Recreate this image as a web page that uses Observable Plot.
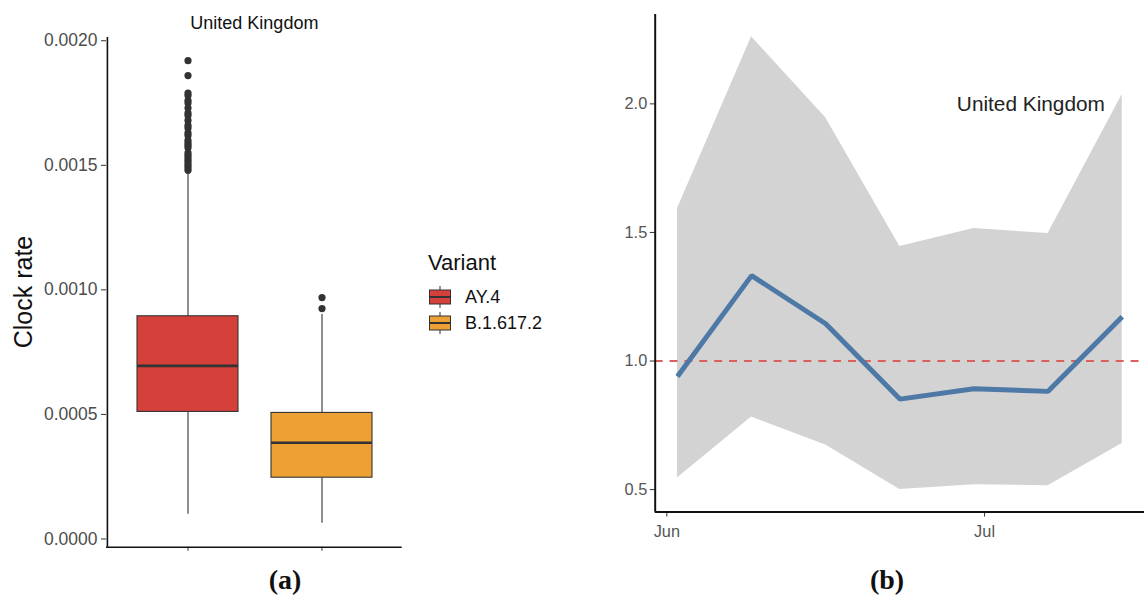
<!DOCTYPE html>
<html>
<head>
<meta charset="utf-8">
<script src="https://cdn.jsdelivr.net/npm/d3@7"></script>
<script src="https://cdn.jsdelivr.net/npm/@observablehq/plot@0.6"></script>
<style>
  html, body { margin: 0; padding: 0; background: #fff; }
  #root { position: relative; width: 1144px; height: 599px; overflow: hidden; background: #fff; font-family: "Liberation Sans", Arial, sans-serif; }
  .panel { position: absolute; top: 0; }
  .cap { position: absolute; font-family: "Liberation Serif", "DejaVu Serif", serif; font-weight: bold; font-size: 28px; color: #111; transform: translateX(-50%); }
  #legend { position: absolute; left: 428px; top: 250px; color: #111; }
  #legend .title { font-size: 22px; line-height: 26px; margin-bottom: 8px; }
  #legend .item { display: flex; align-items: center; height: 26px; font-size: 18px; }
  #ylab { position: absolute; left: 23px; top: 292px; transform: translate(-50%, -50%) rotate(-90deg); font-size: 25px; color: #111; white-space: nowrap; }
</style>
</head>
<body>
<div id="root">
  <div id="pa" class="panel" style="left:0px"></div>
  <div id="pb" class="panel" style="left:560px"></div>
  <div id="ylab">Clock rate</div>
  <div id="legend"></div>
  <div class="cap" style="left:285px; top:564px">(a)</div>
  <div class="cap" style="left:887px; top:564px">(b)</div>
</div>
<script>
// ---------- Panel (a): clock rate box plots ----------
const variants = ["AY.4", "B.1.617.2"];
const variantColors = ["#d6403a", "#eda135"];
const q1 = [0.000510, 0.000246];
const medians = [0.000695, 0.000386];
const q3 = [0.000894, 0.000506];
const whiskerLow = [0.000099, 0.000063];
const whiskerHigh = [0.001465, 0.000901];
const outliersAY4 = [0.00148, 0.00149, 0.00150, 0.00151, 0.00152, 0.00153, 0.00154, 0.00155, 0.00157, 0.00158, 0.00159, 0.00160, 0.00162, 0.00163, 0.00165, 0.00166, 0.00168, 0.00170, 0.00171, 0.00173, 0.00175, 0.00176, 0.00178, 0.00179, 0.00186, 0.00192];
const outliersB16172 = [0.000925, 0.000969];
const clockTicks = [0, 0.0005, 0.0010, 0.0015, 0.0020];

// ---------- Panel (b): reproduction number over time ----------
const weekDates = ["2021-06-02", "2021-06-09", "2021-06-16", "2021-06-23", "2021-06-30", "2021-07-07", "2021-07-14"];
const rMean = [0.94, 1.332, 1.145, 0.852, 0.892, 0.882, 1.172];
const rUpper = [1.592, 2.261, 1.946, 1.445, 1.515, 1.496, 2.036];
const rLower = [0.545, 0.782, 0.673, 0.500, 0.519, 0.515, 0.679];
const rTicks = [0.5, 1.0, 1.5, 2.0];
const monthTicks = ["2021-06-01", "2021-07-01"];
const panelTitle = "United Kingdom";

// Build tables
const boxes = variants.map((v, i) => ({variant: v, q1: q1[i], med: medians[i], q3: q3[i], lo: whiskerLow[i], hi: whiskerHigh[i]}));
const outliers = [
  ...outliersAY4.map(v => ({variant: variants[0], value: v})),
  ...outliersB16172.map(v => ({variant: variants[1], value: v}))
];
const fillScale = {type: "ordinal", domain: variants, range: variantColors};

const yA = [-0.000033, 0.002013];
const plotA = Plot.plot({
  width: 420, height: 560,
  marginLeft: 106, marginRight: 18.3, marginTop: 37, marginBottom: 13.3,
  style: {fontFamily: "Liberation Sans, Arial, sans-serif", background: "transparent", overflow: "visible"},
  x: {type: "band", domain: variants, paddingInner: 0.25, paddingOuter: 0.225, axis: null},
  y: {domain: yA, axis: null},
  color: fillScale,
  marks: [
    Plot.ruleX(boxes, {x: "variant", y1: "lo", y2: "q1", stroke: "#333", strokeWidth: 1.1}),
    Plot.ruleX(boxes, {x: "variant", y1: "q3", y2: "hi", stroke: "#333", strokeWidth: 1.1}),
    Plot.barY(boxes, {x: "variant", y1: "q1", y2: "q3", fill: "variant", stroke: "#333", strokeWidth: 1.1}),
    Plot.tickY(boxes, {x: "variant", y: "med", stroke: "#333", strokeWidth: 2.6}),
    Plot.dot(outliers, {x: "variant", y: "value", r: 3.6, fill: "#333", stroke: null}),
    Plot.axisY({ticks: clockTicks, tickFormat: d3.format(".4f"), tickSize: 5, tickPadding: 4, fontSize: 17.5, stroke: "#333", fill: "#4d4d4d", label: null}),
    Plot.axisX({ticks: variants, tickFormat: () => "", tickSize: 4, stroke: "#333", label: null}),
    Plot.ruleY([yA[0]], {stroke: "#111", strokeWidth: 1.6}),
    Plot.ruleX([0], {x: () => variants[0], dx: -80.6, y1: yA[0], y2: yA[1], stroke: "#111", strokeWidth: 1.6}),
    Plot.text([panelTitle], {frameAnchor: "top", lineAnchor: "middle", dy: -14, fontSize: 18, fill: "#111"})
  ]
});
document.getElementById("pa").appendChild(plotA);

// Legend (HTML keys built from the same variant/colour arrays)
const legend = document.getElementById("legend");
legend.innerHTML = `<div class="title">Variant</div>` + variants.map((v, i) => `
  <div class="item">
    <svg width="24" height="24" style="margin-right:13px">
      <line x1="12" x2="12" y1="1" y2="23" stroke="#333" stroke-width="1"/>
      <rect x="1.5" y="5" width="21" height="14" fill="${variantColors[i]}" stroke="#333" stroke-width="1"/>
      <line x1="1.5" x2="22.5" y1="12" y2="12" stroke="#333" stroke-width="2"/>
    </svg>${v}</div>`).join("");

// Panel (b)
const parse = d3.utcParse("%Y-%m-%d");
const series = weekDates.map((d, i) => ({date: parse(d), r: rMean[i], lo: rLower[i], hi: rUpper[i]}));
const span = series[series.length - 1].date - series[0].date;
const xB = [new Date(+series[0].date - 0.05 * span), new Date(+series[series.length - 1].date + 0.05 * span)];
const yB = [0.4125, 2.348];
const plotB = Plot.plot({
  width: 589, height: 560,
  marginLeft: 95.5, marginRight: 0, marginTop: 14, marginBottom: 44,
  style: {fontFamily: "Liberation Sans, Arial, sans-serif", background: "transparent", overflow: "visible"},
  x: {type: "utc", domain: xB, axis: null},
  y: {domain: yB, axis: null},
  marks: [
    Plot.areaY(series, {x: "date", y1: "lo", y2: "hi", fill: "#d3d3d3", curve: "linear"}),
    Plot.ruleY([1], {stroke: "#d9605c", strokeWidth: 2, strokeDasharray: "8,7"}),
    Plot.lineY(series, {x: "date", y: "r", stroke: "#4e78a5", strokeWidth: 5, strokeLinecap: "butt", strokeLinejoin: "miter", curve: "linear"}),
    Plot.axisY({ticks: rTicks, tickFormat: d3.format(".1f"), tickSize: 5, tickPadding: 3, fontSize: 16.5, stroke: "#333", fill: "#555", label: null}),
    Plot.axisX({ticks: monthTicks.map(parse), tickFormat: d3.utcFormat("%b"), tickSize: 5, tickPadding: 8, fontSize: 16.5, stroke: "#333", fill: "#555", label: null}),
    Plot.ruleY([yB[0]], {stroke: "#111", strokeWidth: 2}),
    Plot.ruleX([xB[0]], {y1: yB[0], y2: yB[1], stroke: "#111", strokeWidth: 2}),
    Plot.text([panelTitle], {x: () => parse("2021-07-05"), y: () => 2.0, dx: 4, fontSize: 21, fill: "#222", textAnchor: "middle"})
  ]
});
document.getElementById("pb").appendChild(plotB);
</script>
</body>
</html>
